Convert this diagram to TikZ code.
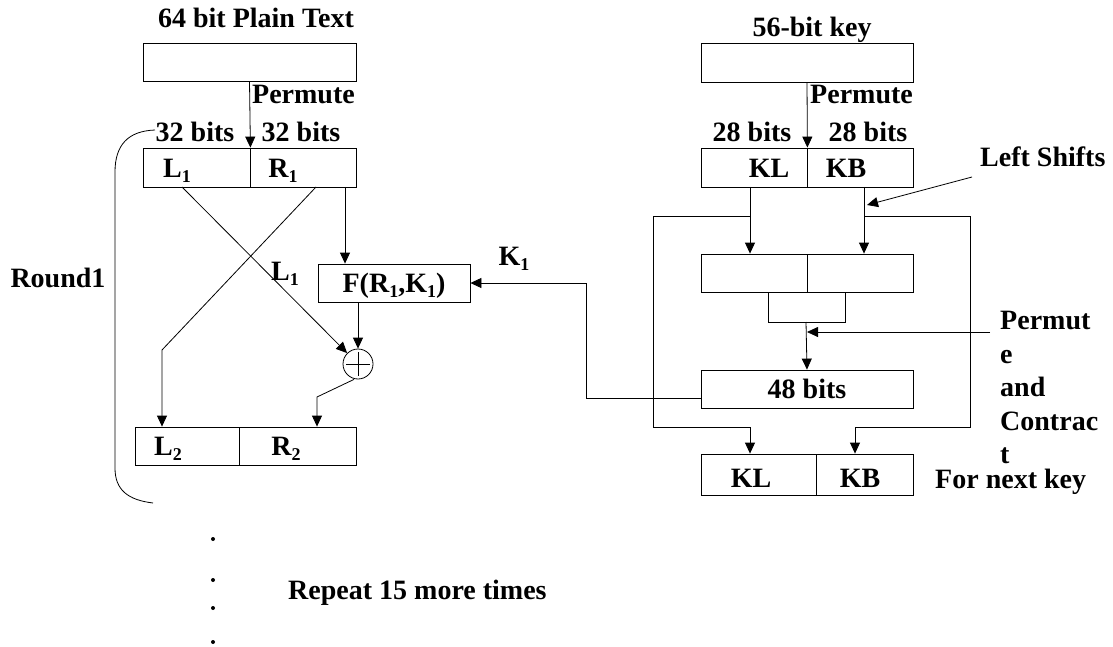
\documentclass[tikz,border=0pt]{standalone}
\usepackage{fontspec}
\setmainfont{Liberation Serif}
\usetikzlibrary{arrows.meta,calc}
\newcommand\sbs[1]{\raisebox{-5pt}{\fontsize{18}{18}\selectfont #1}}
\begin{document}
\begin{tikzpicture}[x=1pt,y=-1pt,
  box/.style={draw,line width=0.8pt,inner sep=0,minimum height=38pt},
  txt/.style={inner sep=0,font=\fontsize{28}{34}\selectfont\bfseries},
  ln/.style={line width=0.8pt},
  arr/.style={line width=0.8pt,-{Triangle[length=11pt,width=10pt]}}]
\useasboundingbox (0,0) rectangle (1113,647);

% ---------- left: data path ----------
\node[txt,anchor=base] (tplain) at (256,28) {64 bit Plain Text};
\node[box,minimum width=213pt] (ptop) at (249.5,62) {};
\node[txt,anchor=base west] (tperm1) at (252,104) {Permute};
\node[txt,anchor=base] (t32a) at (195,142) {32 bits};
\node[txt,anchor=base] (t32b) at (301,142) {32 bits};
\node[box,minimum width=107pt,minimum height=39pt] (L1) at (196.5,167.5) {};
\node[box,minimum width=106pt,minimum height=39pt] (R1) at (303,167.5) {};
\node[txt,anchor=base] (tL1) at (177,178) {L\sbs{1}};
\node[txt,anchor=base] (tR1) at (283,178) {R\sbs{1}};
\node[txt,anchor=base] (tL1b) at (285,280) {L\sbs{1}};
\node[box,minimum width=152pt] (F) at (394,283) {};
\node[txt,anchor=base] (tF) at (394,292) {F(R\sbs{1},K\sbs{1})};
\node[draw,circle,line width=0.8pt,minimum size=30pt,inner sep=0] (xor) at (358,364) {};
\draw[line width=1pt] ($(xor.center)+(-12,0)$) -- ($(xor.center)+(12,0)$)
      ($(xor.center)+(0,-12)$) -- ($(xor.center)+(0,12)$);
\node[box,minimum width=104pt] (L2) at (187,446) {};
\node[box,minimum width=117pt] (R2) at (297.5,446) {};
\node[txt,anchor=base] (tL2) at (168,455) {L\sbs{2}};
\node[txt,anchor=base] (tR2) at (286,455) {R\sbs{2}};
\node[txt,anchor=base] (tround) at (58,287) {Round1};
\node[txt,anchor=base] (tK1) at (514,265) {K\sbs{1}};

\draw[arr] (ptop.south) -- (L1.north east);
\coordinate (c1) at (182,187);
\coordinate (c2) at (316,187);
\coordinate (c3) at (162,350);
\coordinate (c4) at (345,187);
\coordinate (c5) at (317,397);
\draw[arr] (c1) -- (xor);
\draw[arr] (c2) -- (c3) -- (L2.north -| c3);
\draw[arr] (c4) -- (F.north -| c4);
\draw[arr] (F.south -| xor) -- (xor.north);
\draw[arr] (xor.south) ++(-4,0) -- (c5) -- (R2.north -| c5);
% round brace
\coordinate (b1) at (155,130);
\coordinate (b2) at (153,503);
\draw[ln] (b1) .. controls (128,131) and (115,145) .. (115,172) -- (115,468)
   .. controls (115,490) and (128,500) .. (b2);

% ---------- right: key schedule ----------
\node[txt,anchor=base] (tkey) at (812,37) {56-bit key};
\node[box,minimum width=212pt,minimum height=39pt] (ktop) at (807,62.5) {};
\node[txt,anchor=base west] (tperm2) at (810,104) {Permute};
\node[txt,anchor=base] (t28a) at (752,142) {28 bits};
\node[txt,anchor=base] (t28b) at (868,142) {28 bits};
\node[box,minimum width=106pt,minimum height=39pt] (KL1) at (754,167.5) {};
\node[box,minimum width=106pt,minimum height=39pt] (KB1) at (860,167.5) {};
\node[txt,anchor=base] (tKL1) at (769,178) {KL};
\node[txt,anchor=base] (tKB1) at (846,178) {KB};
\node[box,minimum width=106pt] (MA) at (754,273) {};
\node[box,minimum width=106pt] (MB) at (860,273) {};
\node[box,minimum width=212pt] (K48) at (807,389) {};
\node[txt,anchor=base] (t48) at (807,398) {48 bits};
\node[box,minimum width=115pt,minimum height=41pt] (KL2) at (758.5,474.5) {};
\node[box,minimum width=97pt,minimum height=41pt] (KB2) at (864.5,474.5) {};
\node[txt,anchor=base] (tKL2) at (751,487) {KL};
\node[txt,anchor=base] (tKB2) at (860,487) {KB};
\node[txt,anchor=base west] (tnext) at (935,488) {For next key};
\node[txt,anchor=base west] (tshift) at (980,167) {Left Shifts};
\node[txt,anchor=north west,align=left,font=\fontsize{28}{33.5}\selectfont\bfseries] (tpc) at (1000,311)
   {Permut\\e\\and\\Contrac\\t};

\draw[arr] (ktop.south) -- (KL1.south east |- KL1.north);
\coordinate (d1) at (750,187);
\coordinate (d2) at (864,187);
\coordinate (d3) at (653,216);
\coordinate (d4) at (970,216);
\coordinate (d5) at (653,427);
\coordinate (d6) at (970,427);
\coordinate (d7) at (750,427);
\coordinate (d8) at (855,427);
\draw[arr] (d1) -- (MA.north -| d1);
\draw[arr] (d2) -- (MB.north -| d2);
\draw[ln] (d1 |- d3) -- (d3) -- (d5) -- (d7);
\draw[arr] (d7) -- (KL2.north -| d7);
\draw[ln] (d2 |- d4) -- (d4) -- (d6) -- (d8);
\draw[arr] (d8) -- (KB2.north -| d8);
\coordinate (e1) at (768,322);
\coordinate (e2) at (845,322);
\draw[ln] (MA.south -| e1) -- (e1) -- (e2) -- (MB.south -| e2);
\draw[arr] ($(e1)!0.5!(e2)$) ++(-0.5,0) -- (K48.north);
\coordinate (e3) at (990,332);
\draw[arr] (e3) -- (807,332);
\coordinate (e4) at (586,398);
\coordinate (e5) at (586,283);
\draw[arr] (K48.west |- e4) -- (e4) -- (e5) -- (F.east);
\coordinate (e6) at (972,177);
\draw[arr] (e6) -- (867,205);

% ---------- repeat ----------
\node[txt,anchor=base west] (trep) at (288,599) {Repeat 15 more times};
\fill (213,539) circle (2) (213,580) circle (2) (213,608) circle (2) (213,642) circle (2);
\end{tikzpicture}
\end{document}
